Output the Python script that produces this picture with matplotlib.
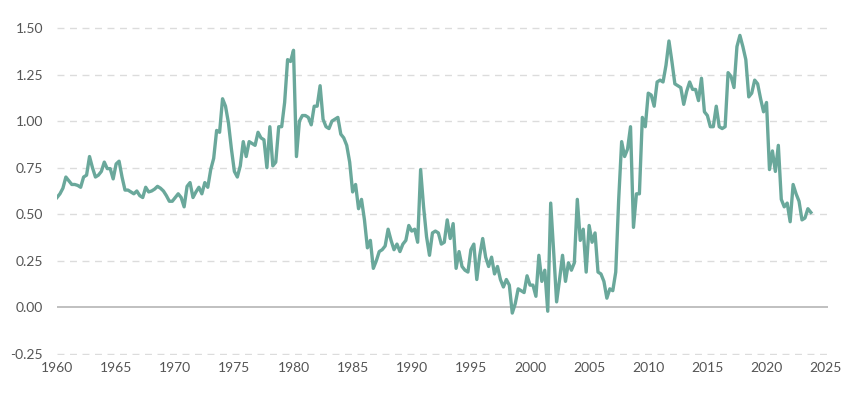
import numpy as np
import matplotlib
matplotlib.use('Agg')
import matplotlib.pyplot as plt

# Quarterly series, 1960Q1 .. 2023Q4
values_by_year = {
    1960: [0.59, 0.61, 0.64, 0.70],
    1961: [0.68, 0.66, 0.66, 0.655],
    1962: [0.645, 0.70, 0.71, 0.81],
    1963: [0.75, 0.70, 0.71, 0.73],
    1964: [0.78, 0.745, 0.745, 0.69],
    1965: [0.77, 0.785, 0.70, 0.63],
    1966: [0.63, 0.62, 0.61, 0.625],
    1967: [0.60, 0.59, 0.645, 0.62],
    1968: [0.625, 0.635, 0.65, 0.64],
    1969: [0.625, 0.60, 0.57, 0.57],
    1970: [0.59, 0.61, 0.59, 0.54],
    1971: [0.65, 0.67, 0.59, 0.62],
    1972: [0.645, 0.61, 0.67, 0.645],
    1973: [0.74, 0.80, 0.95, 0.94],
    1974: [1.12, 1.08, 0.99, 0.85],
    1975: [0.73, 0.70, 0.76, 0.89],
    1976: [0.81, 0.89, 0.88, 0.87],
    1977: [0.94, 0.91, 0.90, 0.75],
    1978: [0.97, 0.76, 0.78, 0.97],
    1979: [0.97, 1.10, 1.33, 1.32],
    1980: [1.38, 0.81, 1.00, 1.03],
    1981: [1.03, 1.02, 0.98, 1.08],
    1982: [1.08, 1.19, 1.01, 0.97],
    1983: [0.96, 1.00, 1.01, 1.02],
    1984: [0.93, 0.91, 0.87, 0.78],
    1985: [0.62, 0.66, 0.53, 0.58],
    1986: [0.47, 0.32, 0.36, 0.21],
    1987: [0.25, 0.30, 0.31, 0.33],
    1988: [0.42, 0.36, 0.31, 0.34],
    1989: [0.30, 0.34, 0.36, 0.44],
    1990: [0.41, 0.42, 0.35, 0.74],
    1991: [0.54, 0.38, 0.28, 0.40],
    1992: [0.41, 0.40, 0.34, 0.35],
    1993: [0.47, 0.37, 0.45, 0.21],
    1994: [0.30, 0.22, 0.20, 0.19],
    1995: [0.31, 0.34, 0.15, 0.28],
    1996: [0.37, 0.27, 0.22, 0.27],
    1997: [0.18, 0.22, 0.15, 0.11],
    1998: [0.15, 0.12, -0.03, 0.02],
    1999: [0.10, 0.09, 0.08, 0.17],
    2000: [0.12, 0.12, 0.06, 0.28],
    2001: [0.14, 0.20, -0.02, 0.56],
    2002: [0.30, 0.03, 0.15, 0.28],
    2003: [0.14, 0.24, 0.20, 0.24],
    2004: [0.58, 0.36, 0.42, 0.19],
    2005: [0.44, 0.35, 0.40, 0.19],
    2006: [0.18, 0.14, 0.05, 0.10],
    2007: [0.09, 0.19, 0.58, 0.89],
    2008: [0.81, 0.85, 0.97, 0.43],
    2009: [0.61, 0.61, 1.02, 0.97],
    2010: [1.15, 1.14, 1.08, 1.21],
    2011: [1.22, 1.21, 1.30, 1.43],
    2012: [1.32, 1.20, 1.19, 1.18],
    2013: [1.09, 1.16, 1.21, 1.17],
    2014: [1.17, 1.11, 1.23, 1.05],
    2015: [1.03, 0.97, 0.97, 1.08],
    2016: [0.97, 0.96, 0.97, 1.26],
    2017: [1.24, 1.18, 1.40, 1.46],
    2018: [1.40, 1.33, 1.13, 1.15],
    2019: [1.22, 1.20, 1.12, 1.05],
    2020: [1.10, 0.74, 0.84, 0.73],
    2021: [0.87, 0.58, 0.54, 0.56],
    2022: [0.46, 0.66, 0.61, 0.57],
    2023: [0.47, 0.48, 0.53, 0.51],
}

years = []
vals = []
for yr, qs in values_by_year.items():
    for q, v in enumerate(qs):
        years.append(yr + q / 4)
        vals.append(v)

x_ticks = list(range(1960, 2026, 5))
y_ticks = [-0.25, 0.0, 0.25, 0.5, 0.75, 1.0, 1.25, 1.5]

line_color = '#6aa89b'
grid_color = '#dcdcdc'
text_color = '#555555'

plt.rcParams['font.family'] = ['Lato', 'DejaVu Sans']

fig = plt.figure(figsize=(8.68, 3.93), dpi=100)
ax = fig.add_axes([57 / 868, 38 / 393, (828 - 57) / 868, (366 - 38) / 393])

# dashed grid, solid zero line
for yv in y_ticks:
    if yv == 0:
        ax.axhline(yv, color='#b5b5b5', lw=1.2, zorder=1)
    else:
        ax.axhline(yv, color=grid_color, lw=1.0, ls=(0, (5, 4)), zorder=1)

ax.plot(years, vals, color=line_color, lw=2.4, solid_joinstyle='round', zorder=3)

ax.set_xlim(1960, 2025.2)
ax.set_ylim(-0.255, 1.505)
ax.set_xticks(x_ticks)
ax.set_yticks(y_ticks)
ax.set_yticklabels([f'{v:.2f}' for v in y_ticks])

for s in ax.spines.values():
    s.set_visible(False)
ax.tick_params(axis='both', length=0, labelsize=10, colors=text_color)
ax.tick_params(axis='y', pad=10)
ax.tick_params(axis='x', pad=5)

fig.savefig('out.png', dpi=100, facecolor='white')
